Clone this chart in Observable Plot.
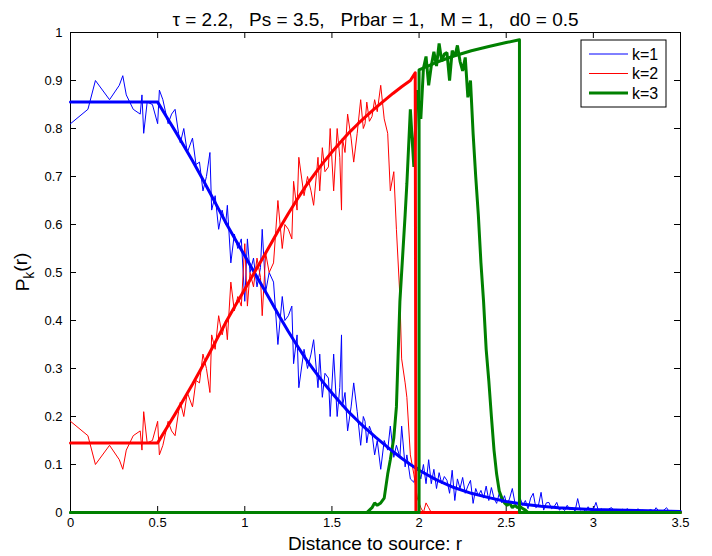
<!DOCTYPE html>
<html><head><meta charset="utf-8">
<script src="https://cdn.jsdelivr.net/npm/d3@7"></script>
<script src="https://cdn.jsdelivr.net/npm/@observablehq/plot@0.6"></script>
<style>
body{margin:0;background:#fff;}
#chart svg{display:block;}
svg text{white-space:pre;}
</style></head><body><div id="chart"></div>
<script>
const FONT = '"Liberation Sans", Arial, Helvetica, sans-serif';
const titleText = "τ = 2.2,   Ps = 3.5,   Prbar = 1,   M = 1,   d0 = 0.5";
const xLabel = "Distance to source: r";
const xTicks = [0, 0.5, 1, 1.5, 2, 2.5, 3, 3.5];
const yTicks = [0, 0.1, 0.2, 0.3, 0.4, 0.5, 0.6, 0.7, 0.8, 0.9, 1];
const seriesNames = ["k=1", "k=2", "k=3"];
const seriesColors = ["#0000ff", "#ff0000", "#008000"];
const seriesWidths = [1, 1, 3];

// simulated (noisy) probabilities
const rSim = [
  0, 0.10, 0.143, 0.224, 0.28, 0.30, 0.32, 0.36, 0.40, 0.41, 0.42, 0.44, 0.47, 0.50,
  0.51, 0.53, 0.56, 0.58, 0.60, 0.62, 0.63, 0.65, 0.67, 0.70, 0.72, 0.74, 0.76, 0.78, 0.80, 0.81, 0.83, 0.85, 0.87, 0.89, 0.90, 0.92, 0.94, 0.96, 0.98, 1.00,
  1.015, 1.03, 1.05, 1.07, 1.09, 1.10, 1.12, 1.14, 1.165, 1.19,
  1.215, 1.23, 1.25, 1.27, 1.28, 1.30, 1.31, 1.34, 1.36, 1.38,
  1.395, 1.42, 1.43, 1.445, 1.46, 1.48, 1.49, 1.51, 1.53, 1.545,
  1.555, 1.56, 1.575, 1.59, 1.61, 1.625, 1.645, 1.665, 1.68, 1.69,
  1.70, 1.715, 1.73, 1.745, 1.76, 1.78, 1.80, 1.82, 1.835, 1.855,
  1.87, 1.89, 1.90, 1.92, 1.93, 1.95, 1.97, 1.99,
  2.010, 2.025, 2.040, 2.055, 2.070, 2.085, 2.100, 2.115, 2.130, 2.145,
  2.160, 2.175, 2.190, 2.205, 2.220, 2.235, 2.250, 2.265, 2.280, 2.295,
  2.310, 2.325, 2.340, 2.355, 2.370, 2.385, 2.400, 2.415, 2.430, 2.445,
  2.460, 2.475, 2.490, 2.505, 2.520, 2.535, 2.550, 2.565, 2.580, 2.595,
  2.610, 2.625, 2.640, 2.655, 2.670, 2.685, 2.700, 2.715, 2.730, 2.745,
  2.760, 2.775, 2.790, 2.805, 2.820, 2.835, 2.850, 2.865, 2.880, 2.895,
  2.910, 2.925, 2.940, 2.955, 2.970, 2.985, 3.000, 3.015, 3.030, 3.045,
  3.060, 3.075, 3.090, 3.105, 3.120, 3.135, 3.150, 3.165, 3.180, 3.195,
  3.210, 3.225, 3.240, 3.255, 3.270, 3.285, 3.300, 3.315, 3.330, 3.345,
  3.360, 3.375, 3.390, 3.405, 3.420, 3.435, 3.450, 3.465, 3.480, 3.495
];
const k1Sim = [
  0.81, 0.84, 0.90, 0.86, 0.89, 0.91, 0.87, 0.84, 0.83, 0.87, 0.79, 0.855, 0.85, 0.81,
  0.88, 0.86, 0.81, 0.83, 0.84, 0.79, 0.77, 0.80, 0.75, 0.78, 0.725, 0.73, 0.67, 0.70, 0.75, 0.63, 0.66, 0.59, 0.63, 0.60, 0.64, 0.52, 0.58, 0.55, 0.57, 0.44,
  0.57, 0.50, 0.53, 0.47, 0.51, 0.59, 0.46, 0.50, 0.48, 0.35,
  0.45, 0.40, 0.41, 0.43, 0.31, 0.37, 0.26, 0.34, 0.30, 0.33,
  0.36, 0.26, 0.33, 0.24, 0.29, 0.28, 0.20, 0.33, 0.20, 0.26,
  0.37, 0.22, 0.25, 0.17, 0.22, 0.27, 0.21, 0.14, 0.20, 0.19,
  0.145, 0.18, 0.165, 0.12, 0.15, 0.09, 0.15, 0.13, 0.18, 0.115,
  0.14, 0.115, 0.18, 0.095, 0.12, 0.07, 0.063, 0.095,
  0.07, 0.10, 0.06, 0.11, 0.06, 0.09, 0.05, 0.083, 0.06, 0.075,
  0.067, 0.04, 0.088, 0.025, 0.07, 0.05, 0.073, 0.04, 0.055, 0.067,
  0.019, 0.05, 0.035, 0.046, 0.03, 0.055, 0.025, 0.052, 0.03, 0.019,
  0.04, 0.02, 0.035, 0.015, 0.03, 0.05, 0.02, 0.01, 0.03, 0.015,
  0.025, 0.008, 0.03, 0.04, 0.01, 0.015, 0.042, 0.005, 0.02, 0.021,
  0.008, 0.012, 0.021, 0.005, 0.01, 0.004, 0.015, 0.006, 0.01, 0.003,
  0.029, 0.005, 0.008, 0.002, 0.012, 0.004, 0.006, 0.021, 0.003, 0.008,
  0.004, 0.002, 0.008, 0.01, 0.003, 0.006, 0.002, 0.007, 0.004, 0.008,
  0.003, 0.005, 0.002, 0.008, 0.003, 0.005, 0.001, 0.004, 0.006, 0.002,
  0.01, 0.003, 0.002, 0.005, 0.01, 0.002, 0.004, 0.001, 0.003, 0.002
];
const k2Sim = [
  0.19, 0.16, 0.10, 0.14, 0.11, 0.09, 0.13, 0.16, 0.17, 0.13, 0.21, 0.145, 0.15, 0.19,
  0.12, 0.14, 0.19, 0.17, 0.16, 0.21, 0.23, 0.20, 0.25, 0.22, 0.275, 0.27, 0.33, 0.30, 0.25, 0.37, 0.34, 0.41, 0.37, 0.40, 0.36, 0.48, 0.42, 0.45, 0.43, 0.56,
  0.43, 0.50, 0.47, 0.53, 0.49, 0.41, 0.54, 0.50, 0.52, 0.65,
  0.55, 0.60, 0.59, 0.57, 0.69, 0.63, 0.74, 0.66, 0.70, 0.67,
  0.64, 0.74, 0.67, 0.76, 0.71, 0.72, 0.80, 0.67, 0.80, 0.74,
  0.63, 0.78, 0.75, 0.83, 0.78, 0.73, 0.79, 0.86, 0.80, 0.81,
  0.855, 0.815, 0.825, 0.86, 0.835, 0.89, 0.82, 0.79, 0.67, 0.71,
  0.59, 0.45, 0.32, 0.27, 0.24, 0.12, 0.08, 0.03,
  0.01, 0, 0.02, 0.01, 0, 0, 0, 0, 0, 0,
  0, 0, 0, 0, 0, 0, 0, 0, 0, 0,
  0, 0, 0, 0, 0, 0, 0, 0, 0, 0,
  0, 0, 0, 0, 0, 0, 0, 0, 0, 0,
  0, 0, 0, 0, 0, 0, 0, 0, 0, 0,
  0, 0, 0, 0, 0, 0, 0, 0, 0, 0,
  0, 0, 0, 0, 0, 0, 0, 0, 0, 0,
  0, 0, 0, 0, 0, 0, 0, 0, 0, 0,
  0, 0, 0, 0, 0, 0, 0, 0, 0, 0,
  0, 0, 0, 0, 0, 0, 0, 0, 0, 0
];
const k3Sim = [
  0, 0, 0, 0, 0, 0, 0, 0, 0, 0, 0, 0, 0, 0,
  0, 0, 0, 0, 0, 0, 0, 0, 0, 0, 0, 0, 0, 0, 0, 0, 0, 0, 0, 0, 0, 0, 0, 0, 0, 0,
  0, 0, 0, 0, 0, 0, 0, 0, 0, 0,
  0, 0, 0, 0, 0, 0, 0, 0, 0, 0,
  0, 0, 0, 0, 0, 0, 0, 0, 0, 0,
  0, 0, 0, 0, 0, 0, 0, 0, 0, 0,
  0, 0.005, 0.01, 0.02, 0.015, 0.02, 0.03, 0.08, 0.11, 0.155,
  0.22, 0.44, 0.50, 0.62, 0.685, 0.84, 0.72, 0.88,
  0.82, 0.925, 0.95, 0.89, 0.93, 0.96, 0.93, 0.977, 0.94, 0.955,
  0.958, 0.90, 0.962, 0.95, 0.973, 0.94, 0.92, 0.948, 0.865, 0.90,
  0.79, 0.70, 0.62, 0.52, 0.44, 0.34, 0.275, 0.20, 0.13, 0.08,
  0.045, 0.03, 0.02, 0.015, 0.02, 0.01, 0.015, 0.01, 0.012, 0.008,
  0.005, 0, 0, 0, 0, 0, 0, 0, 0, 0,
  0, 0, 0, 0, 0, 0, 0, 0, 0, 0,
  0, 0, 0, 0, 0, 0, 0, 0, 0, 0,
  0, 0, 0, 0, 0, 0, 0, 0, 0, 0,
  0, 0, 0, 0, 0, 0, 0, 0, 0, 0,
  0, 0, 0, 0, 0, 0, 0, 0, 0, 0
];

// theoretical curves
const rTheory1 = [0, 0.5, 0.55, 0.6, 0.65, 0.7, 0.75, 0.8, 0.85, 0.9, 0.95, 1.0, 1.05, 1.1, 1.15, 1.2, 1.25, 1.3, 1.35, 1.4, 1.45, 1.5, 1.55, 1.6, 1.65, 1.7, 1.75, 1.8, 1.85, 1.9, 1.95, 2.0, 2.1, 2.2, 2.3, 2.4, 2.5, 2.6, 2.7, 2.8, 2.9, 3.0, 3.25, 3.5];
const k1Theory = [0.855, 0.855, 0.825, 0.795, 0.764, 0.733, 0.700, 0.666, 0.632, 0.598, 0.566, 0.535, 0.503, 0.472, 0.440, 0.408, 0.377, 0.348, 0.320, 0.295, 0.271, 0.249, 0.228, 0.208, 0.190, 0.173, 0.157, 0.142, 0.127, 0.113, 0.100, 0.088, 0.068, 0.052, 0.040, 0.031, 0.023, 0.017, 0.013, 0.010, 0.008, 0.006, 0.004, 0.002];
const rTheory2 = [0, 0.5, 0.55, 0.6, 0.65, 0.7, 0.75, 0.8, 0.85, 0.9, 0.95, 1.0, 1.05, 1.1, 1.15, 1.2, 1.25, 1.3, 1.35, 1.4, 1.45, 1.5, 1.55, 1.6, 1.65, 1.7, 1.75, 1.8, 1.85, 1.9, 1.95, 1.978, 1.982, 3.5];
const k2Theory = [0.145, 0.145, 0.175, 0.205, 0.236, 0.267, 0.300, 0.334, 0.368, 0.402, 0.434, 0.465, 0.497, 0.528, 0.560, 0.592, 0.623, 0.652, 0.680, 0.705, 0.729, 0.751, 0.772, 0.792, 0.810, 0.827, 0.843, 0.858, 0.873, 0.887, 0.900, 0.916, 0, 0];
const rTheory3 = [0, 2.0, 2.0, 2.1, 2.2, 2.3, 2.4, 2.5, 2.576, 2.576, 3.5];
const k3Theory = [0, 0, 0.922, 0.938, 0.951, 0.962, 0.971, 0.979, 0.985, 0, 0];

const pts = (rs, ps) => rs.map((r, i) => ({r, p: ps[i]}));
const simSeries = [k1Sim, k2Sim, k3Sim];
const theory = [[rTheory1, k1Theory], [rTheory2, k2Theory], [rTheory3, k3Theory]];

const simMarks = simSeries.map((s, i) =>
  Plot.line(pts(rSim, s), {x: "r", y: "p", stroke: seriesColors[i], strokeWidth: seriesWidths[i], strokeLinejoin: "miter"}));
const theoryMarks = theory.map(([rs, ps], i) =>
  Plot.line(pts(rs, ps), {x: "r", y: "p", stroke: seriesColors[i], strokeWidth: 3}));

const H = 556, MT = 32, MB = 44, ML = 70, MR = 32, W = 712;
const frameH = H - MT - MB, frameW = W - ML - MR, TICK = 6;

const plot = Plot.plot({
  width: W, height: H,
  marginTop: MT, marginBottom: MB, marginLeft: ML, marginRight: MR,
  x: {domain: [0, 3.5]},
  y: {domain: [0, 1]},
  style: {fontFamily: FONT, fontSize: "13px", color: "#000", background: "#fff", overflow: "visible"},
  marks: [
    Plot.frame({stroke: "#000", strokeWidth: 1}),
    Plot.tickX(xTicks, {x: d => d, insetTop: frameH - TICK, stroke: "#000"}),
    Plot.tickX(xTicks, {x: d => d, insetBottom: frameH - TICK, stroke: "#000"}),
    Plot.tickY(yTicks, {y: d => d, insetRight: frameW - TICK, stroke: "#000"}),
    Plot.tickY(yTicks, {y: d => d, insetLeft: frameW - TICK, stroke: "#000"}),
    Plot.axisX({ticks: xTicks, tickSize: 0, tickPadding: 5, tickFormat: d => String(d), label: null, fontSize: 13}),
    Plot.axisY({ticks: yTicks, tickSize: 0, tickPadding: 8, tickFormat: d => String(d), label: null, fontSize: 13}),
    ...simMarks,
    ...theoryMarks,
    Plot.text([titleText], {text: d => d, frameAnchor: "top", dy: -20, fontSize: 19})
  ]
});
document.getElementById("chart").appendChild(plot);

const svg = d3.select(plot);
const [xl, xr] = plot.scale("x").range;
const [yb, yt] = plot.scale("y").range;
const cx = (xl + xr) / 2, cy = (yb + yt) / 2;

svg.append("text").attr("x", cx).attr("y", yb + 38).attr("text-anchor", "middle")
  .attr("font-size", 19).attr("fill", "#000").attr("font-family", FONT).text(xLabel);

const yl = svg.append("text").attr("transform", `translate(${xl - 41},${cy}) rotate(-90)`)
  .attr("text-anchor", "middle").attr("font-size", 19).attr("fill", "#000").attr("font-family", FONT);
yl.append("tspan").text("P");
yl.append("tspan").attr("font-size", 14).attr("dy", "0.35em").text("k");
yl.append("tspan").attr("dy", "-0.35em").text("(r)");

// legend
const lw = 85, lh = 67, lx = xr - 99, ly = yt + 8;
const lg = svg.append("g").attr("font-family", FONT).attr("font-size", 16).attr("text-anchor", "start");
lg.append("rect").attr("x", lx).attr("y", ly).attr("width", lw).attr("height", lh)
  .attr("fill", "#fff").attr("stroke", "#000").attr("stroke-width", 1);
seriesNames.forEach((name, i) => {
  const yy = ly + 14 + i * 19.5;
  lg.append("line").attr("x1", lx + 8).attr("x2", lx + 47).attr("y1", yy).attr("y2", yy)
    .attr("stroke", seriesColors[i]).attr("stroke-width", seriesWidths[i]);
  lg.append("text").attr("x", lx + 51).attr("y", yy).attr("dy", "0.36em").attr("text-anchor", "start").attr("fill", "#000").text(name);
});
</script></body></html>
